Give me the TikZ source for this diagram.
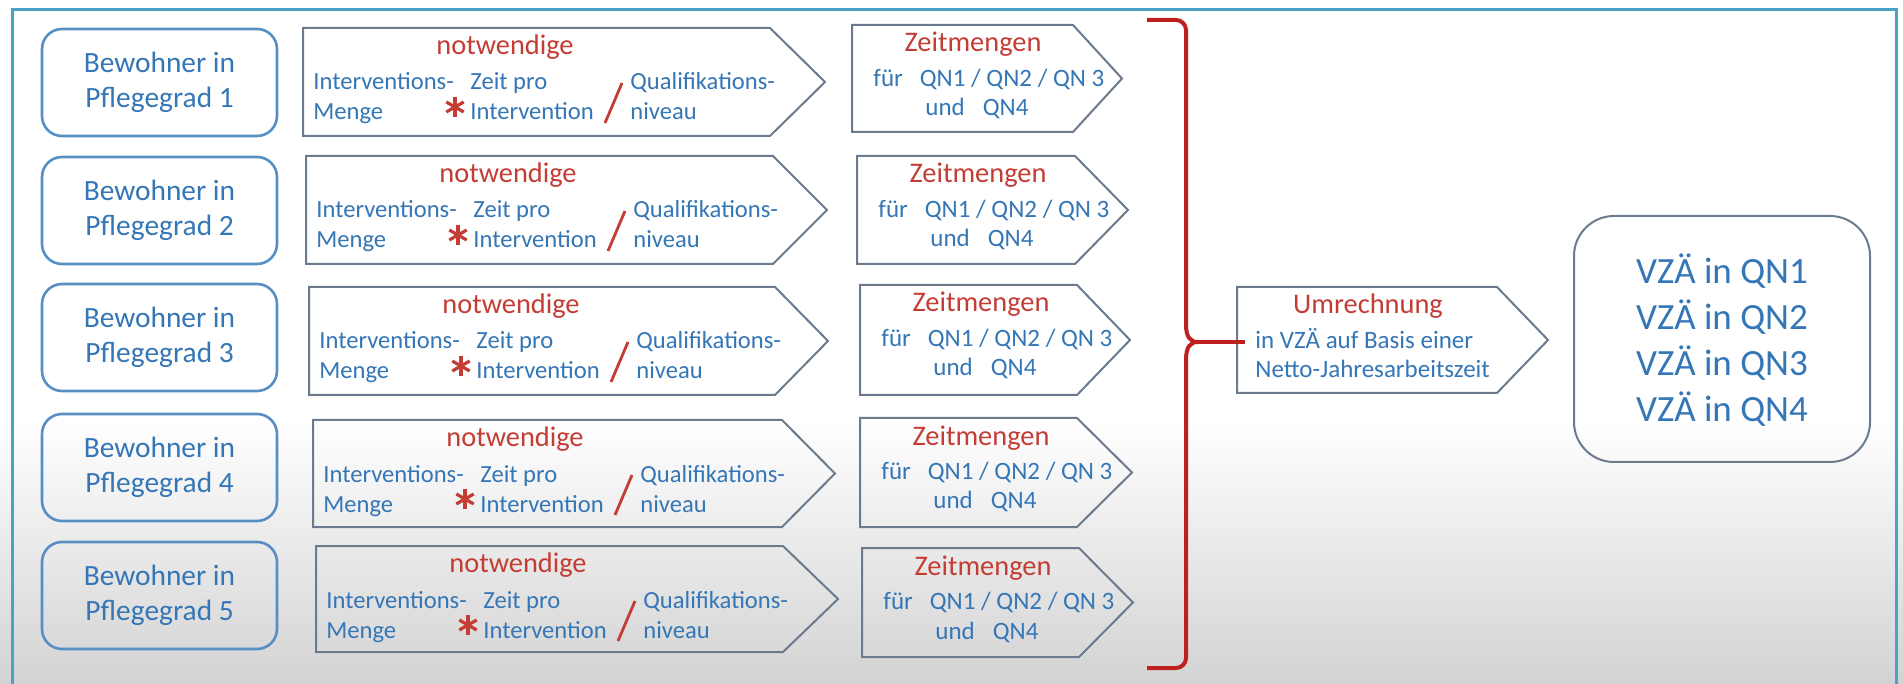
\documentclass[tikz,border=0pt]{standalone}
\usepackage{fontspec}
\setmainfont{Carlito}
\definecolor{blueT}{RGB}{52,118,182}
\definecolor{redT}{RGB}{196,60,52}
\definecolor{boxB}{RGB}{86,143,196}
\definecolor{pentC}{RGB}{108,122,142}
\definecolor{frameC}{RGB}{74,163,196}
\definecolor{braceC}{RGB}{190,32,30}
\definecolor{bgBot}{RGB}{211,211,211}
\begin{document}
\begin{tikzpicture}[x=0.5pt,y=-0.5pt,
  bwbox/.style={draw=boxB, line width=1.3pt, rounded corners=10pt, minimum width=117.5pt, minimum height=53.5pt, inner sep=0pt, align=center, text=blueT, font=\fontsize{14.7}{17.8}\selectfont},
  pent/.style={draw=pentC, line width=1pt},
  hd/.style={anchor=base, inner sep=0pt, text=redT, font=\fontsize{14.2}{17}\selectfont},
  tx/.style={anchor=base west, inner sep=0pt, text=blueT, font=\fontsize{12.3}{15}\selectfont},
  tz/.style={anchor=base west, inner sep=0pt, text=blueT, font=\fontsize{12.5}{15}\selectfont},
  redln/.style={draw=redT, line width=1.4pt},
  astl/.style={draw=redT, line width=1.6pt},
  bracel/.style={draw=braceC, line width=2pt},
  vz/.style={anchor=base, inner sep=0pt, text=blueT, font=\fontsize{18.5}{22}\selectfont}
]
\useasboundingbox (0,0) rectangle (1903,684);
\clip (0,0) rectangle (1903,684);
\fill[white] (0,0) rectangle (1903,684);
\shade[top color=white, bottom color=bgBot] (0,420) rectangle (1903,684);
\draw[frameC, line width=1.5pt] (12,700) -- (12,10) -- (1896,10) -- (1896,700);

\foreach \r/\bt/\nl/\nt/\nb/\nf/\np/\zl/\zt/\zb/\zf/\zp in {
  1/29/303/28/136/770/825/852/25/132/1073/1122,
  2/157/306/156/264/773/827/857/156/264/1075/1128,
  3/284/309/287/395/775/828/860/285/395/1077/1130,
  4/414/313/420/527/782/835/860/418/527/1077/1132,
  5/542/316/546/652/783/838/862/548/657/1079/1133}{
  \pgfmathsetmacro\nm{(\nt+\nb)/2}
  \pgfmathsetmacro\zm{(\zt+\zb)/2}
  % Bewohner box
  \node[bwbox] (bw\r) at (159.5,\bt+53.5) {Bewohner in\\Pflegegrad \r};
  % notwendige pentagon
  \draw[pent] (\nl,\nt) -- (\nf,\nt) -- (\np,\nm) -- (\nf,\nb) -- (\nl,\nb) -- cycle;
  \node[hd] (nh\r) at (\nl+202,\nt+27) {notwendige};
  \node[tx] (nia\r) at (\nl+10,\nt+62) {Interventions-};
  \node[tx] (nib\r) at (\nl+10,\nt+92) {Menge};
  \node[tx] (nza\r) at (\nl+167,\nt+62) {Zeit pro};
  \node[tx] (nzb\r) at (\nl+167,\nt+92) {Intervention};
  \node[tx] (nqa\r) at (\nl+327,\nt+62) {Qualifikations-};
  \node[tx] (nqb\r) at (\nl+327,\nt+92) {niveau};
  % asterisk
  \draw[astl] (\nl+152,\nt+69) -- (\nl+152,\nt+89);
  \draw[astl] (\nl+143.3,\nt+74) -- (\nl+160.7,\nt+84);
  \draw[astl] (\nl+143.3,\nt+84) -- (\nl+160.7,\nt+74);
  % slash
  \draw[redln] (\nl+302,\nt+95) -- (\nl+319,\nt+55);
  % Zeitmengen pentagon
  \draw[pent] (\zl,\zt) -- (\zf,\zt) -- (\zp,\zm) -- (\zf,\zb) -- (\zl,\zb) -- cycle;
  \node[hd] (zh\r) at (\zl+121,\zt+27) {Zeitmengen};
  \node[tz] (za\r) at (\zl+21,\zt+62) {für\hspace{8.5pt}QN1 / QN2 / QN 3};
  \node[tz] (zb\r) at (\zl+73,\zt+91) {und\hspace{9pt}QN4};
}

% Umrechnung
\draw[pent] (1237,287) -- (1497,287) -- (1548,340) -- (1497,393) -- (1237,393) -- cycle;
\coordinate (umrW) at (1245,342);
\node[hd] (uh) at (1368,314) {Umrechnung};
\node[tz] (ua) at (1255,349) {in VZÄ auf Basis einer};
\node[tz] (ub) at (1255,378) {Netto-Jahresarbeitszeit};

% brace
\coordinate (braceTip) at (1198,342);
\draw[bracel, line join=round] (1147,20) -- (1176,20) to[out=0,in=90] (1186,30) -- (1186,324)
  .. controls (1186,337) and (1190,342) .. (braceTip)
  .. controls (1190,342) and (1186,347) .. (1186,360) -- (1186,658)
  to[out=-90,in=0] (1176,668) -- (1147,668);
\draw[bracel] (braceTip) -- (umrW);

% result box
\draw[pentC, line width=1pt, rounded corners=20pt] (1574,216) rectangle (1870,462);
\node[vz] (vz1) at (1722,284) {VZÄ in QN1};
\node[vz] (vz2) at (1722,330) {VZÄ in QN2};
\node[vz] (vz3) at (1722,376) {VZÄ in QN3};
\node[vz] (vz4) at (1722,422) {VZÄ in QN4};
\end{tikzpicture}
\end{document}
